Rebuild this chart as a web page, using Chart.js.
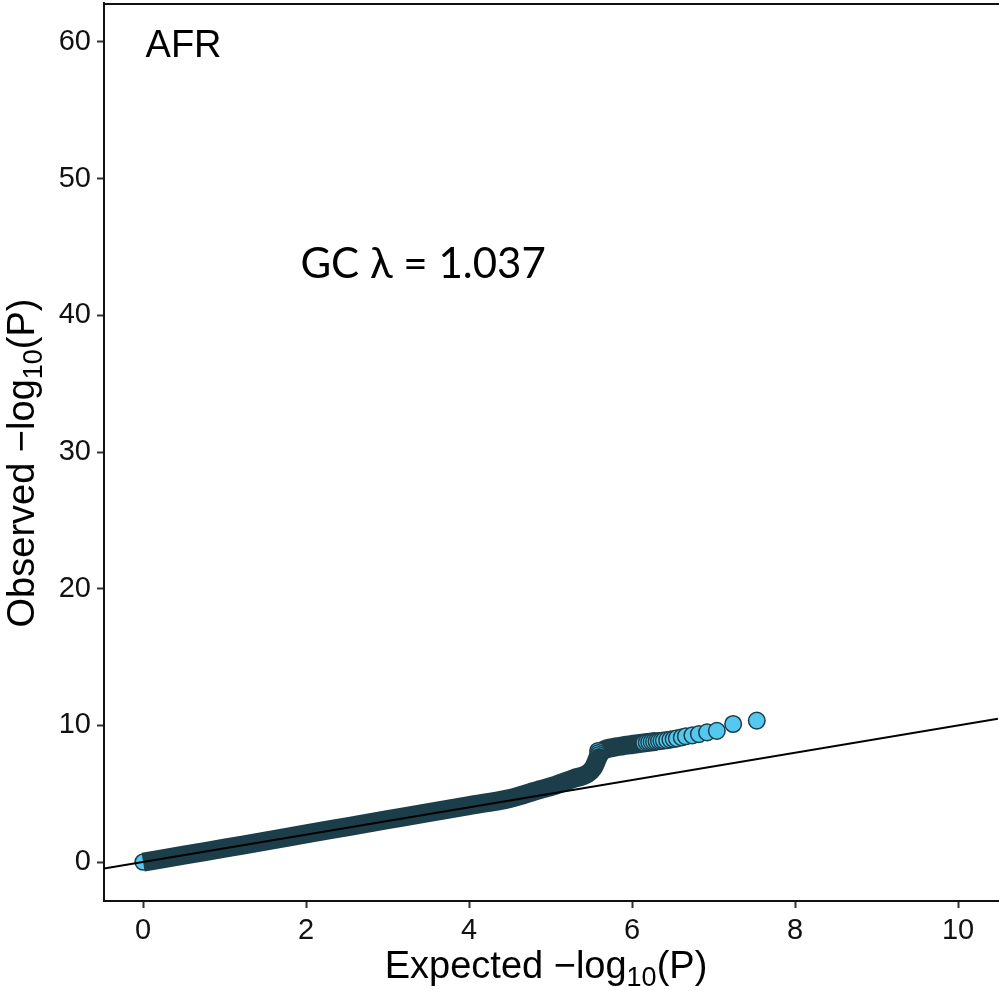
<!DOCTYPE html>
<html>
<head>
<meta charset="utf-8">
<script src="https://cdn.jsdelivr.net/npm/chart.js@4/dist/chart.umd.min.js"></script>
<style>
    html, body { margin: 0; background: #fff; }
    #wrap { width: 999px; height: 991px; position: relative; }
</style>
</head>
<body>
<div id="wrap"><canvas id="qq"></canvas></div>
<script>
// axis ranges and ticks
const xRange = [-0.48, 10.49];
const yRange = [-2.85, 62.85];
const xTicks = [0, 2, 4, 6, 8, 10];
const yTicks = [0, 10, 20, 30, 40, 50, 60];

// first point (expected 0)
const originX = [0];
const originY = [0];

// dense part of the cloud, reads as one solid band
const bandX = [0, 0.5, 1, 1.5, 2, 2.5, 3, 3.5, 4, 4.5, 4.87, 5.05, 5.28, 5.45, 5.52, 5.56, 5.59, 5.63, 5.7, 5.8, 6.0, 6.15, 6.3];
const bandY = [0, 0.5, 1.02, 1.53, 2.06, 2.58, 3.1, 3.62, 4.13, 4.65, 5.3, 5.6, 6.1, 6.45, 6.85, 7.35, 7.8, 8.1, 8.3, 8.42, 8.6, 8.72, 8.83];

// a few points on the jump near 5.6
const riseX = [5.58, 5.585, 5.59, 5.595];
const riseY = [8.15, 8.0, 7.85, 7.7];

// upper tail, single points
const tailX = [6.15, 6.18, 6.21, 6.24, 6.27, 6.3, 6.33, 6.36, 6.39, 6.43, 6.47, 6.51, 6.55, 6.61, 6.66, 6.74, 6.82, 6.92, 7.04, 7.24, 7.53];
const tailY = [8.72, 8.75, 8.77, 8.79, 8.81, 8.83, 8.85, 8.87, 8.89, 8.92, 8.96, 9.0, 9.05, 9.12, 9.2, 9.27, 9.36, 9.49, 9.6, 10.1, 10.35];

const panelLabel  = 'AFR';
const lambdaLabel = 'GC \u03bb = 1.037';

const BLUE = '#55c8f0';
const DARK = '#1b3e4a';
const SANS = '"Liberation Sans", Arial, Helvetica, sans-serif';

// panel box in canvas pixels
const PANEL = { left: 104, top: 3, right: 998, bottom: 901 };

const pts = (xs, ys) => xs.map((x, i) => ({ x, y: ys[i] }));

// text with a subscript part, drawn centred at (0,0) of the current transform
function drawParts(ctx, parts, size) {
    const fontFor = p => `${p.sub ? Math.round(size * 0.7) : size}px ${SANS}`;
    let total = 0;
    parts.forEach(p => { ctx.font = fontFor(p); total += ctx.measureText(p.t).width; });
    let cx = -total / 2;
    parts.forEach(p => {
        ctx.font = fontFor(p);
        ctx.fillText(p.t, cx, p.sub ? size * 0.22 : 0);
        cx += ctx.measureText(p.t).width;
    });
}

const decor = {
    id: 'decor',
    // pin the panel where the reference has it
    afterLayout(chart) {
        const { left: L, top: T, right: R, bottom: B } = PANEL;
        const H = chart.height;
        Object.assign(chart.chartArea, { left: L, top: T, right: R, bottom: B, width: R - L, height: B - T });
        Object.assign(chart.scales.x, { left: L, right: R, width: R - L, top: B, bottom: H, height: H - B });
        Object.assign(chart.scales.y, { left: 0, right: L, width: L, top: T, bottom: B, height: B - T });
        chart.scales.x.configure();
        chart.scales.y.configure();
    },
    afterDraw(chart) {
        const { ctx, chartArea: a, scales: { x, y } } = chart;
        ctx.save();
        ctx.strokeStyle = '#111';
        ctx.lineWidth = 2;
        ctx.beginPath();
        ctx.moveTo(a.left, a.top + 1);
        ctx.lineTo(a.right + 1, a.top + 1);
        ctx.stroke();

        ctx.fillStyle = '#000';
        ctx.textBaseline = 'alphabetic';
        ctx.textAlign = 'left';
        ctx.font = `38px ${SANS}`;
        ctx.fillText(panelLabel, x.getPixelForValue(0.03), y.getPixelForValue(58.9));
        ctx.font = '42px Lato, "Open Sans", sans-serif';
        ctx.fillText(lambdaLabel, x.getPixelForValue(1.93), y.getPixelForValue(42.7));

        // axis titles
        ctx.save();
        ctx.translate((a.left + a.right) / 2 - 5, 978);
        drawParts(ctx, [{ t: 'Expected \u2212log' }, { t: '10', sub: true }, { t: '(P)' }], 38);
        ctx.restore();
        ctx.save();
        ctx.translate(34, 463);
        ctx.rotate(-Math.PI / 2);
        drawParts(ctx, [{ t: 'Observed \u2212log' }, { t: '10', sub: true }, { t: '(P)' }], 38);
        ctx.restore();
        ctx.restore();
    }
};

const axisCommon = {
    type: 'linear',
    border: { display: true, color: '#111', width: 2 },
    grid: { drawOnChartArea: false, drawTicks: true, tickLength: 7, tickWidth: 2, tickColor: '#333' },
    ticks: { color: '#111', font: { family: SANS, size: 29 }, padding: 6 }
};

new Chart(document.getElementById('qq'), {
    type: 'scatter',
    data: {
        datasets: [
            {
                data: pts(originX, originY), order: 5,
                pointRadius: 8, backgroundColor: BLUE, borderColor: DARK, borderWidth: 1.5
            },
            {
                data: pts(bandX, bandY), order: 4, showLine: true,
                pointRadius: 0, borderColor: DARK, borderWidth: 19,
                cubicInterpolationMode: 'monotone', borderCapStyle: 'butt', borderJoinStyle: 'round'
            },
            {
                data: pts(riseX, riseY), order: 3,
                pointRadius: 8, backgroundColor: [BLUE, BLUE, BLUE, DARK], borderColor: DARK, borderWidth: 1.5
            },
            {
                data: pts(tailX, tailY), order: 2,
                pointRadius: 8.3, backgroundColor: BLUE, borderColor: DARK, borderWidth: 1.5
            },
            {
                data: pts(xRange, xRange), order: 1, showLine: true,
                pointRadius: 0, borderColor: '#000', borderWidth: 2
            }
        ]
    },
    options: {
        responsive: true,
        maintainAspectRatio: false,
        animation: false,
        plugins: { legend: { display: false }, tooltip: { enabled: false } },
        scales: {
            x: {
                ...axisCommon, min: xRange[0], max: xRange[1],
                afterBuildTicks: s => { s.ticks = xTicks.map(v => ({ value: v })); }
            },
            y: {
                ...axisCommon, min: yRange[0], max: yRange[1],
                afterBuildTicks: s => { s.ticks = yTicks.map(v => ({ value: v })); }
            }
        }
    },
    plugins: [decor]
});
</script>
</body>
</html>
